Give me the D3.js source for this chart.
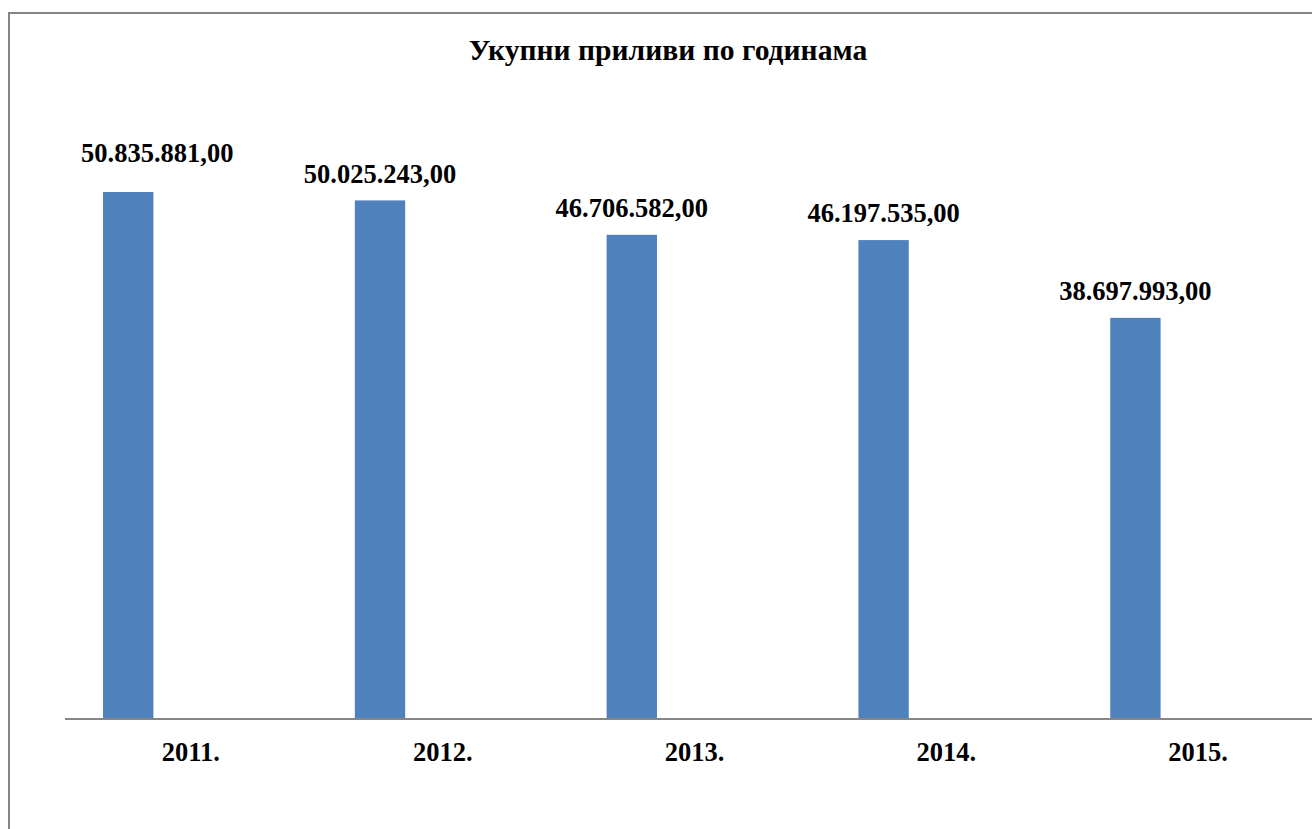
<!DOCTYPE html>
<html>
<head>
<meta charset="utf-8">
<script src="https://cdn.jsdelivr.net/npm/d3@7"></script>
<style>
  html, body { margin: 0; padding: 0; background: #ffffff; }
  svg { display: block; }
  text { font-family: "Liberation Serif", "Times New Roman", serif; font-weight: bold; fill: #000; }
</style>
</head>
<body>
<svg id="chart" width="1312" height="829"></svg>
<script>
const title = "Укупни приливи по годинама";
const categories = ["2011.", "2012.", "2013.", "2014.", "2015."];
const values = [50835881.00, 50025243.00, 46706582.00, 46197535.00, 38697993.00];
const yDomain = [0, 60000000];

// layout-only tweak: the first data label was moved manually in the source
const labelShift = [[29, -12], [0, 0], [0, 0], [0, 0], [0, 0]];

const W = 1312, H = 829;
const svg = d3.select("#chart");

// outer chart border (extends beyond the viewport on right and bottom)
svg.append("rect")
  .attr("x", 9).attr("y", 13)
  .attr("width", W + 20).attr("height", H + 20)
  .attr("fill", "#ffffff")
  .attr("stroke", "#868686").attr("stroke-width", 2);

const plot = { left: 65, top: 97, bottom: 719, step: 251.8 };

const x = d3.scaleBand()
  .domain(categories)
  .range([plot.left, plot.left + plot.step * categories.length])
  .paddingInner(0).paddingOuter(0);

const y = d3.scaleLinear().domain(yDomain).range([plot.bottom, plot.top]);

const fmt = d3.formatLocale({ decimal: ",", thousands: ".", grouping: [3], currency: ["", ""] }).format(",.2f");

const barOffset = x.bandwidth() * 0.151;
const barWidth = x.bandwidth() * 0.2;

// bars
svg.append("g").selectAll("rect")
  .data(values)
  .join("rect")
  .attr("x", (d, i) => x(categories[i]) + barOffset)
  .attr("y", d => y(d))
  .attr("width", barWidth)
  .attr("height", d => y(0) - y(d))
  .attr("fill", "#4F81BD");

// x axis
const xAxis = d3.axisBottom(x).tickSize(0).tickPadding(0);
const gx = svg.append("g")
  .attr("transform", `translate(0,${plot.bottom})`)
  .call(xAxis);
gx.attr("font-family", null).attr("font-size", null);
gx.select(".domain")
  .attr("d", `M${plot.left},0H${W + 20}`)
  .attr("stroke", "#868686").attr("stroke-width", 2);
gx.selectAll(".tick text")
  .attr("y", 42)
  .attr("dy", null)
  .style("font-family", '"Liberation Serif", "Times New Roman", serif')
  .style("font-weight", "bold")
  .style("font-size", "26.5px")
  .attr("fill", "#000");

// data labels
svg.append("g").selectAll("text")
  .data(values)
  .join("text")
  .attr("x", (d, i) => x(categories[i]) + barOffset + barWidth / 2 + labelShift[i][0])
  .attr("y", (d, i) => y(d) - 17.6 + labelShift[i][1])
  .attr("text-anchor", "middle")
  .style("font-size", "26.5px")
  .text(d => fmt(d));

// title
svg.append("text")
  .attr("x", 668).attr("y", 60)
  .attr("text-anchor", "middle")
  .style("font-size", "29.6px")
  .text(title);
</script>
</body>
</html>
